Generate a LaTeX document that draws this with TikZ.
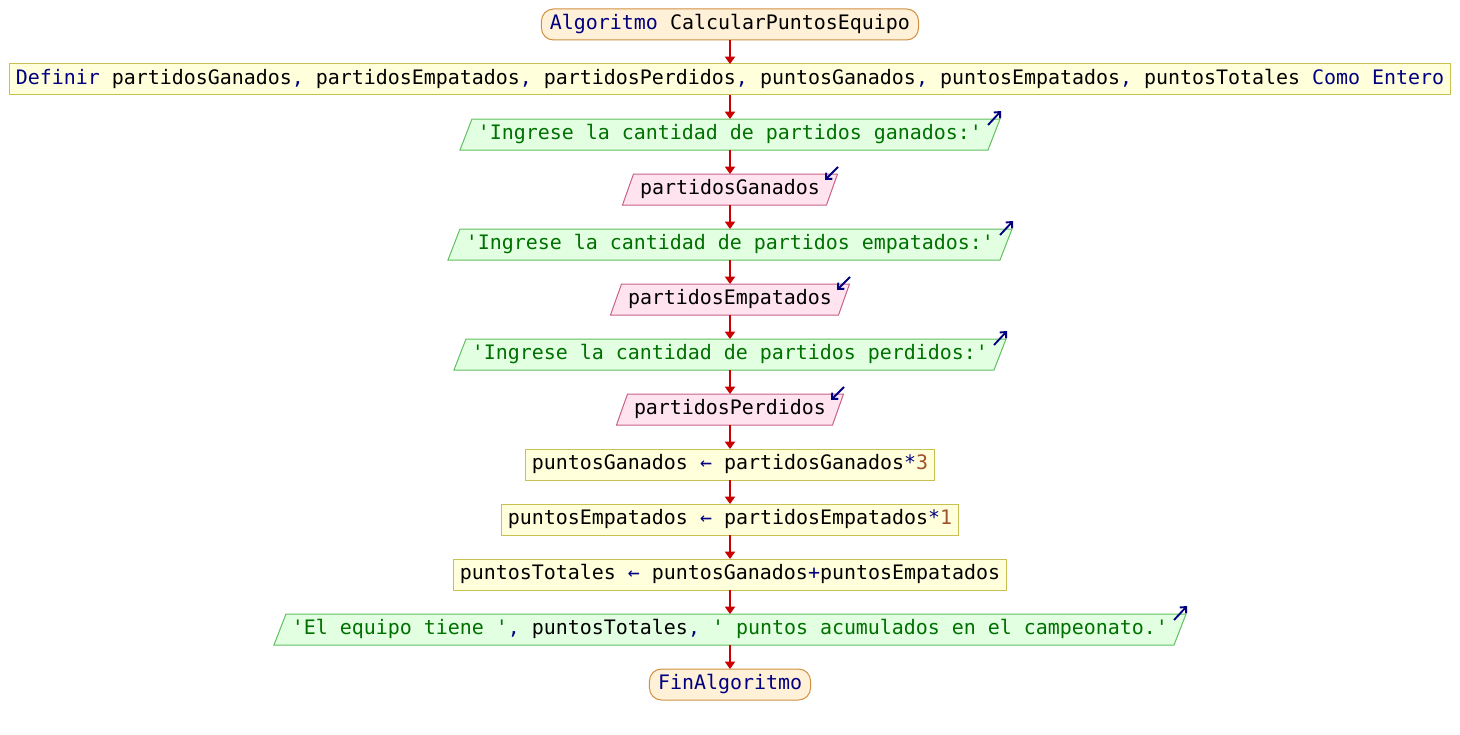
\documentclass[tikz,border=0pt]{standalone}
\usepackage{fontspec}
\setmonofont{DejaVu Sans Mono}
\usetikzlibrary{arrows.meta,calc}
\pgfdeclarelayer{bg}\pgfsetlayers{bg,main}
\definecolor{kw}{HTML}{000080}
\definecolor{str}{HTML}{007000}
\definecolor{num}{HTML}{A0522D}
\definecolor{flowc}{HTML}{CC0000}
\definecolor{sefill}{HTML}{FFF0D8}
\definecolor{sedraw}{HTML}{D09040}
\definecolor{prfill}{HTML}{FFFFDC}
\definecolor{prdraw}{HTML}{C8C050}
\definecolor{outfill}{HTML}{E2FFE2}
\definecolor{outdraw}{HTML}{60C060}
\definecolor{infill}{HTML}{FFE4F0}
\definecolor{indraw}{HTML}{C86088}
\newcommand\paraio[3]{\draw[#2] ($(#1.south west)+(-#3,0)$) -- ($(#1.north west)+(#3,0)$) -- ($(#1.north east)+(#3,0)$) -- ($(#1.south east)+(-#3,0)$) -- cycle;}
\tikzset{
  base/.style={inner ysep=0pt, minimum height=23.25pt, outer sep=0pt, text height=10.4pt, text depth=3.6pt},
  startend/.style={base, draw=sedraw, fill=sefill, rounded corners=9pt, inner xsep=6.4pt, line width=0.75pt},
  proc/.style={base, draw=prdraw, fill=prfill, inner xsep=4.5pt, line width=0.75pt},
  outnode/.style={base, inner xsep=9pt},
  innode/.style={base, inner xsep=9pt},
  outshape/.style={draw=outdraw, fill=outfill, line width=0.75pt},
  inshape/.style={draw=indraw, fill=infill, line width=0.75pt},
  flow/.style={draw=flowc, line width=1.5pt, -{Triangle[length=5.5pt,width=7.5pt]}},
  icon/.style={draw=kw, line width=1.4pt, -{Straight Barb[length=3.5pt,width=6.5pt]}}
}
\begin{document}
\begin{tikzpicture}[x=0.75pt,y=-0.75pt,font=\ttfamily\fontsize{14.95pt}{18pt}\selectfont]
\useasboundingbox (0,0) rectangle (1460,735);
\node[startend] (s) at (730,24.5) {\textcolor{kw}{Algoritmo} CalcularPuntosEquipo};
\node[proc] (d) at (730,79.5) {\textcolor{kw}{Definir} partidosGanados\textcolor{kw}{,} partidosEmpatados\textcolor{kw}{,} partidosPerdidos\textcolor{kw}{,} puntosGanados\textcolor{kw}{,} puntosEmpatados\textcolor{kw}{,} puntosTotales \textcolor{kw}{Como Entero}};
\node[outnode] (o1) at (730,134.5) {\textcolor{str}{'Ingrese la cantidad de partidos ganados:'}};
\node[innode] (i1) at (730,189.5) {partidosGanados};
\node[outnode] (o2) at (730,244.5) {\textcolor{str}{'Ingrese la cantidad de partidos empatados:'}};
\node[innode] (i2) at (730,299.5) {partidosEmpatados};
\node[outnode] (o3) at (730,354.5) {\textcolor{str}{'Ingrese la cantidad de partidos perdidos:'}};
\node[innode] (i3) at (730,409.5) {partidosPerdidos};
\node[proc] (a1) at (730,464.5) {puntosGanados \textcolor{kw}{←} partidosGanados\textcolor{kw}{*}\textcolor{num}{3}};
\node[proc] (a2) at (730,519.5) {puntosEmpatados \textcolor{kw}{←} partidosEmpatados\textcolor{kw}{*}\textcolor{num}{1}};
\node[proc] (a3) at (730,574.5) {puntosTotales \textcolor{kw}{←} puntosGanados\textcolor{kw}{+}puntosEmpatados};
\node[outnode] (o4) at (730,629.5) {\textcolor{str}{'El equipo tiene '}\textcolor{kw}{,} puntosTotales\textcolor{kw}{,} \textcolor{str}{' puntos acumulados en el campeonato.'}};
\node[startend] (e) at (730,684.5) {\textcolor{kw}{FinAlgoritmo}};
\begin{pgfonlayer}{bg}
\paraio{o1}{outshape}{6}
\paraio{o2}{outshape}{6}
\paraio{o3}{outshape}{6}
\paraio{o4}{outshape}{6}
\paraio{i1}{inshape}{5.5}
\paraio{i2}{inshape}{5.5}
\paraio{i3}{inshape}{5.5}
\end{pgfonlayer}
\foreach \n in {o1,o2,o3,o4}{
  \draw[icon] ($(\n.north east)+(-6,6)$) -- ($(\n.north east)+(7,-8)$);
}
\foreach \n in {i1,i2,i3}{
  \draw[icon] ($(\n.north east)+(6,-7)$) -- ($(\n.north east)+(-7,6)$);
}
\draw[flow] (s) -- (d);
\draw[flow] (d) -- (o1);
\draw[flow] (o1) -- (i1);
\draw[flow] (i1) -- (o2);
\draw[flow] (o2) -- (i2);
\draw[flow] (i2) -- (o3);
\draw[flow] (o3) -- (i3);
\draw[flow] (i3) -- (a1);
\draw[flow] (a1) -- (a2);
\draw[flow] (a2) -- (a3);
\draw[flow] (a3) -- (o4);
\draw[flow] (o4) -- (e);
\end{tikzpicture}
\end{document}
